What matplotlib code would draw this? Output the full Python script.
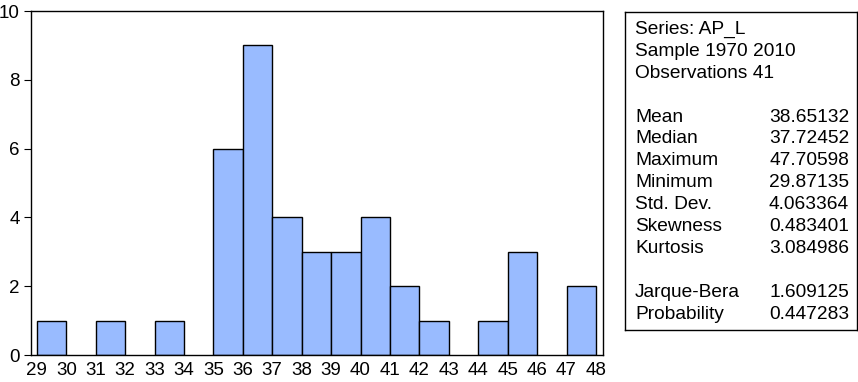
import numpy as np
import matplotlib.pyplot as plt

plt.rcParams['font.family'] = ['Liberation Sans', 'DejaVu Sans']

# histogram of AP_L
bin_left = [29, 31, 33, 35, 36, 37, 38, 39, 40, 41, 42, 44, 45, 47]
counts = [1, 1, 1, 6, 9, 4, 3, 3, 4, 2, 1, 1, 3, 2]
edges = list(range(29, 49))
yticks = [0, 2, 4, 6, 8, 10]

header = ['Series: AP_L', 'Sample 1970 2010', 'Observations 41']
stat_names = ['Mean', 'Median', 'Maximum', 'Minimum', 'Std. Dev.', 'Skewness', 'Kurtosis']
stat_values = ['38.65132', '37.72452', '47.70598', '29.87135', '4.063364', '0.483401', '3.084986']
test_names = ['Jarque-Bera', 'Probability']
test_values = ['1.609125', '0.447283']

fig = plt.figure(figsize=(8.58, 3.82), dpi=100)
W, H = 858, 382
ax = fig.add_axes([31 / W, 1 - 355 / H, (603 - 31) / W, (355 - 11) / H])

ax.bar(bin_left, counts, width=1, align='edge', color='#99bbff', edgecolor='black', linewidth=1)
ax.set_xlim(28.8, 48.24)
ax.set_ylim(0, 10)
ax.set_yticks(yticks)
ax.set_xticks(edges)
ax.tick_params(axis='y', direction='out', length=5, labelsize=13.5, pad=3)
ax.tick_params(axis='x', length=0, labelsize=13.5, pad=5)
for s in ax.spines.values():
    s.set_linewidth(1)

# stats box
bx = fig.add_axes([625 / W, 1 - 330 / H, (857 - 625) / W, (330 - 12) / H])
bx.set_xlim(625, 857)
bx.set_ylim(330, 12)
bx.set_xticks([])
bx.set_yticks([])
for s in bx.spines.values():
    s.set_linewidth(1)

fs = 13.8
step = 21.9
y = 29.5
for t in header:
    bx.text(635, y, t, fontsize=fs, va='center', ha='left')
    y += step
y += step
for n, v in zip(stat_names, stat_values):
    bx.text(635, y, n, fontsize=fs, va='center', ha='left')
    bx.text(849, y, v, fontsize=fs, va='center', ha='right')
    y += step
y += step
for n, v in zip(test_names, test_values):
    bx.text(635, y, n, fontsize=fs, va='center', ha='left')
    bx.text(849, y, v, fontsize=fs, va='center', ha='right')
    y += step

fig.savefig('out.png', dpi=100)
